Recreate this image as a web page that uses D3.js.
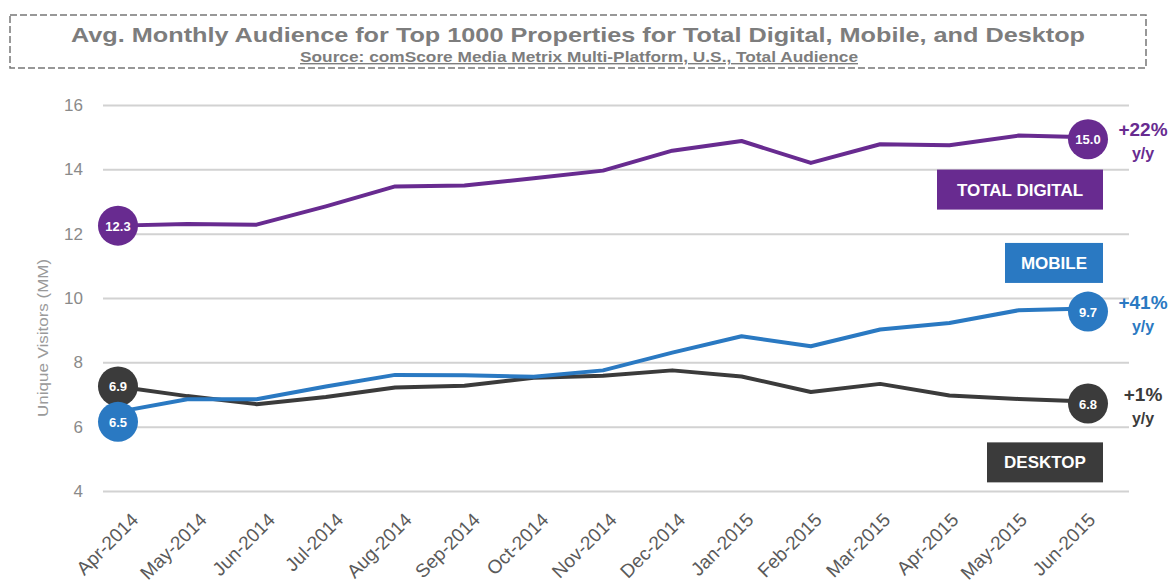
<!DOCTYPE html>
<html>
<head>
<meta charset="utf-8">
<script src="https://cdn.jsdelivr.net/npm/d3@7"></script>
<style>
  body { margin: 0; background: #fff; }
  text { font-family: "Liberation Sans", Arial, sans-serif; }
</style>
</head>
<body>
<script>
// data
const months = ['Apr-2014','May-2014','Jun-2014','Jul-2014','Aug-2014','Sep-2014','Oct-2014',
  'Nov-2014','Dec-2014','Jan-2015','Feb-2015','Mar-2015','Apr-2015','May-2015','Jun-2015'];
const totalDigital = [12.25, 12.3, 12.28, 12.85, 13.47, 13.5, 13.72, 13.96, 14.58, 14.88, 14.2, 14.78, 14.75, 15.05, 15.0];
const mobile       = [6.46, 6.85, 6.85, 7.25, 7.61, 7.6, 7.55, 7.75, 8.3, 8.81, 8.5, 9.02, 9.22, 9.62, 9.67];
const desktop      = [7.25, 6.95, 6.7, 6.92, 7.22, 7.27, 7.52, 7.58, 7.75, 7.56, 7.08, 7.33, 6.97, 6.86, 6.78];
const yTicks = [4, 6, 8, 10, 12, 14, 16];

const series = [
  {name: 'DESKTOP', values: desktop, color: '#3b3b3b', first: '6.9', last: '6.8', change: '+1%', nudge: 0},
  {name: 'MOBILE', values: mobile, color: '#2a79c2', first: '6.5', last: '9.7', change: '+41%', nudge: 10},
  {name: 'TOTAL DIGITAL', values: totalDigital, color: '#682b90', first: '12.3', last: '15.0', change: '+22%', nudge: 0}
];

const width = 1171, height = 587;
const margin = {top: 105, right: 42, bottom: 96, left: 103};

const svg = d3.select('body').append('svg')
  .attr('width', width)
  .attr('height', height);

// title box
svg.append('rect')
  .attr('x', 10).attr('y', 15)
  .attr('width', 1136).attr('height', 53)
  .attr('fill', 'none')
  .attr('stroke', '#777')
  .attr('stroke-width', 1.5)
  .attr('stroke-dasharray', '7,3');

svg.append('text')
  .attr('x', 578).attr('y', 42)
  .attr('text-anchor', 'middle')
  .attr('font-size', 21)
  .attr('font-weight', 'bold')
  .attr('fill', '#7d7d7d')
  .attr('textLength', 1014)
  .attr('lengthAdjust', 'spacingAndGlyphs')
  .text('Avg. Monthly Audience for Top 1000 Properties for Total Digital, Mobile, and Desktop');

svg.append('text')
  .attr('x', 579).attr('y', 62)
  .attr('text-anchor', 'middle')
  .attr('font-size', 14)
  .attr('font-weight', 'bold')
  .attr('fill', '#7d7d7d')
  .attr('text-decoration', 'underline')
  .attr('textLength', 558)
  .attr('lengthAdjust', 'spacingAndGlyphs')
  .text('Source: comScore Media Metrix Multi-Platform, U.S., Total Audience');

// scales
const xScale = d3.scalePoint()
  .domain(months)
  .range([118, 1088]);

// the category labels sit a little right of the points, like the original
const xLabelScale = d3.scalePoint()
  .domain(months)
  .range([139, 1096]);

const yScale = d3.scaleLinear()
  .domain([4, 16])
  .range([491, 105]);

// gridlines + y axis
const yAxis = d3.axisLeft(yScale)
  .tickValues(yTicks)
  .tickSize(-(width - margin.right - margin.left))
  .tickPadding(20);

const gy = svg.append('g')
  .attr('transform', `translate(${margin.left},0)`)
  .call(yAxis);
gy.select('.domain').remove();
gy.selectAll('line').attr('stroke', '#d2d2d2').attr('stroke-width', 2);
gy.selectAll('text')
  .attr('font-size', 17)
  .attr('fill', '#8a8a8a')
  .attr('font-family', '"Liberation Sans", Arial, sans-serif');

svg.append('text')
  .attr('transform', `translate(48,${yScale(8.76)}) rotate(-90)`)
  .attr('text-anchor', 'middle')
  .attr('font-size', 15)
  .attr('fill', '#9a9a9a')
  .attr('textLength', 158)
  .attr('lengthAdjust', 'spacingAndGlyphs')
  .text('Unique Visitors (MM)');

// x axis labels
const xAxis = d3.axisBottom(xLabelScale).tickSize(0).tickPadding(0);
const gx = svg.append('g')
  .attr('transform', `translate(0,${yScale(4)})`)
  .call(xAxis);
gx.select('.domain').remove();
gx.selectAll('text')
  .attr('font-size', 19)
  .attr('fill', '#5a5a5a')
  .attr('font-family', '"Liberation Sans", Arial, sans-serif')
  .style('text-anchor', 'end')
  .attr('dy', 0)
  .attr('transform', 'translate(0,30) rotate(-45)');

// lines
const line = d3.line()
  .x((d, i) => xScale(months[i]))
  .y(d => yScale(d));

svg.append('g')
  .selectAll('path')
  .data(series)
  .join('path')
  .attr('d', s => line(s.values))
  .attr('fill', 'none')
  .attr('stroke', s => s.color)
  .attr('stroke-width', 4)
  .attr('stroke-linejoin', 'round');

// bubbles at start and end
const r = 20;
series.forEach(s => {
  const n = s.values.length;
  const pts = [
    {x: xScale(months[0]), y: yScale(s.values[0]) + s.nudge, t: s.first},
    {x: xScale(months[n - 1]), y: yScale(s.values[n - 1]) + (s.name === 'MOBILE' ? 3 : 2), t: s.last}
  ];
  const g = svg.append('g');
  g.selectAll('circle')
    .data(pts)
    .join('circle')
    .attr('cx', d => d.x)
    .attr('cy', d => d.y)
    .attr('r', r)
    .attr('fill', s.color);
  g.selectAll('text')
    .data(pts)
    .join('text')
    .attr('x', d => d.x)
    .attr('y', d => d.y + 5)
    .attr('text-anchor', 'middle')
    .attr('font-size', 13)
    .attr('font-weight', 'bold')
    .attr('fill', '#fff')
    .text(d => d.t);

  // change labels
  const last = pts[1];
  svg.append('text')
    .attr('x', last.x + 55).attr('y', last.y - 3)
    .attr('text-anchor', 'middle')
    .attr('font-size', 19)
    .attr('font-weight', 'bold')
    .attr('fill', s.color)
    .text(s.change);
  svg.append('text')
    .attr('x', last.x + 55).attr('y', last.y + 20)
    .attr('text-anchor', 'middle')
    .attr('font-size', 16)
    .attr('font-weight', 'bold')
    .attr('fill', s.color)
    .text('y/y');
});

// series name boxes
const boxes = [
  {name: 'TOTAL DIGITAL', at: 13.37, w: 166},
  {name: 'MOBILE', at: 11.09, w: 98},
  {name: 'DESKTOP', at: 4.89, w: 116}
];
const bx = svg.append('g')
  .selectAll('g')
  .data(boxes)
  .join('g')
  .attr('transform', d => `translate(${1103 - d.w},${yScale(d.at) - 20})`);
bx.append('rect')
  .attr('width', d => d.w)
  .attr('height', 40)
  .attr('fill', d => series.find(s => s.name === d.name).color);
bx.append('text')
  .attr('x', d => d.w / 2)
  .attr('y', 26)
  .attr('text-anchor', 'middle')
  .attr('font-size', 17)
  .attr('font-weight', 'bold')
  .attr('fill', '#fff')
  .text(d => d.name);
</script>
</body>
</html>
